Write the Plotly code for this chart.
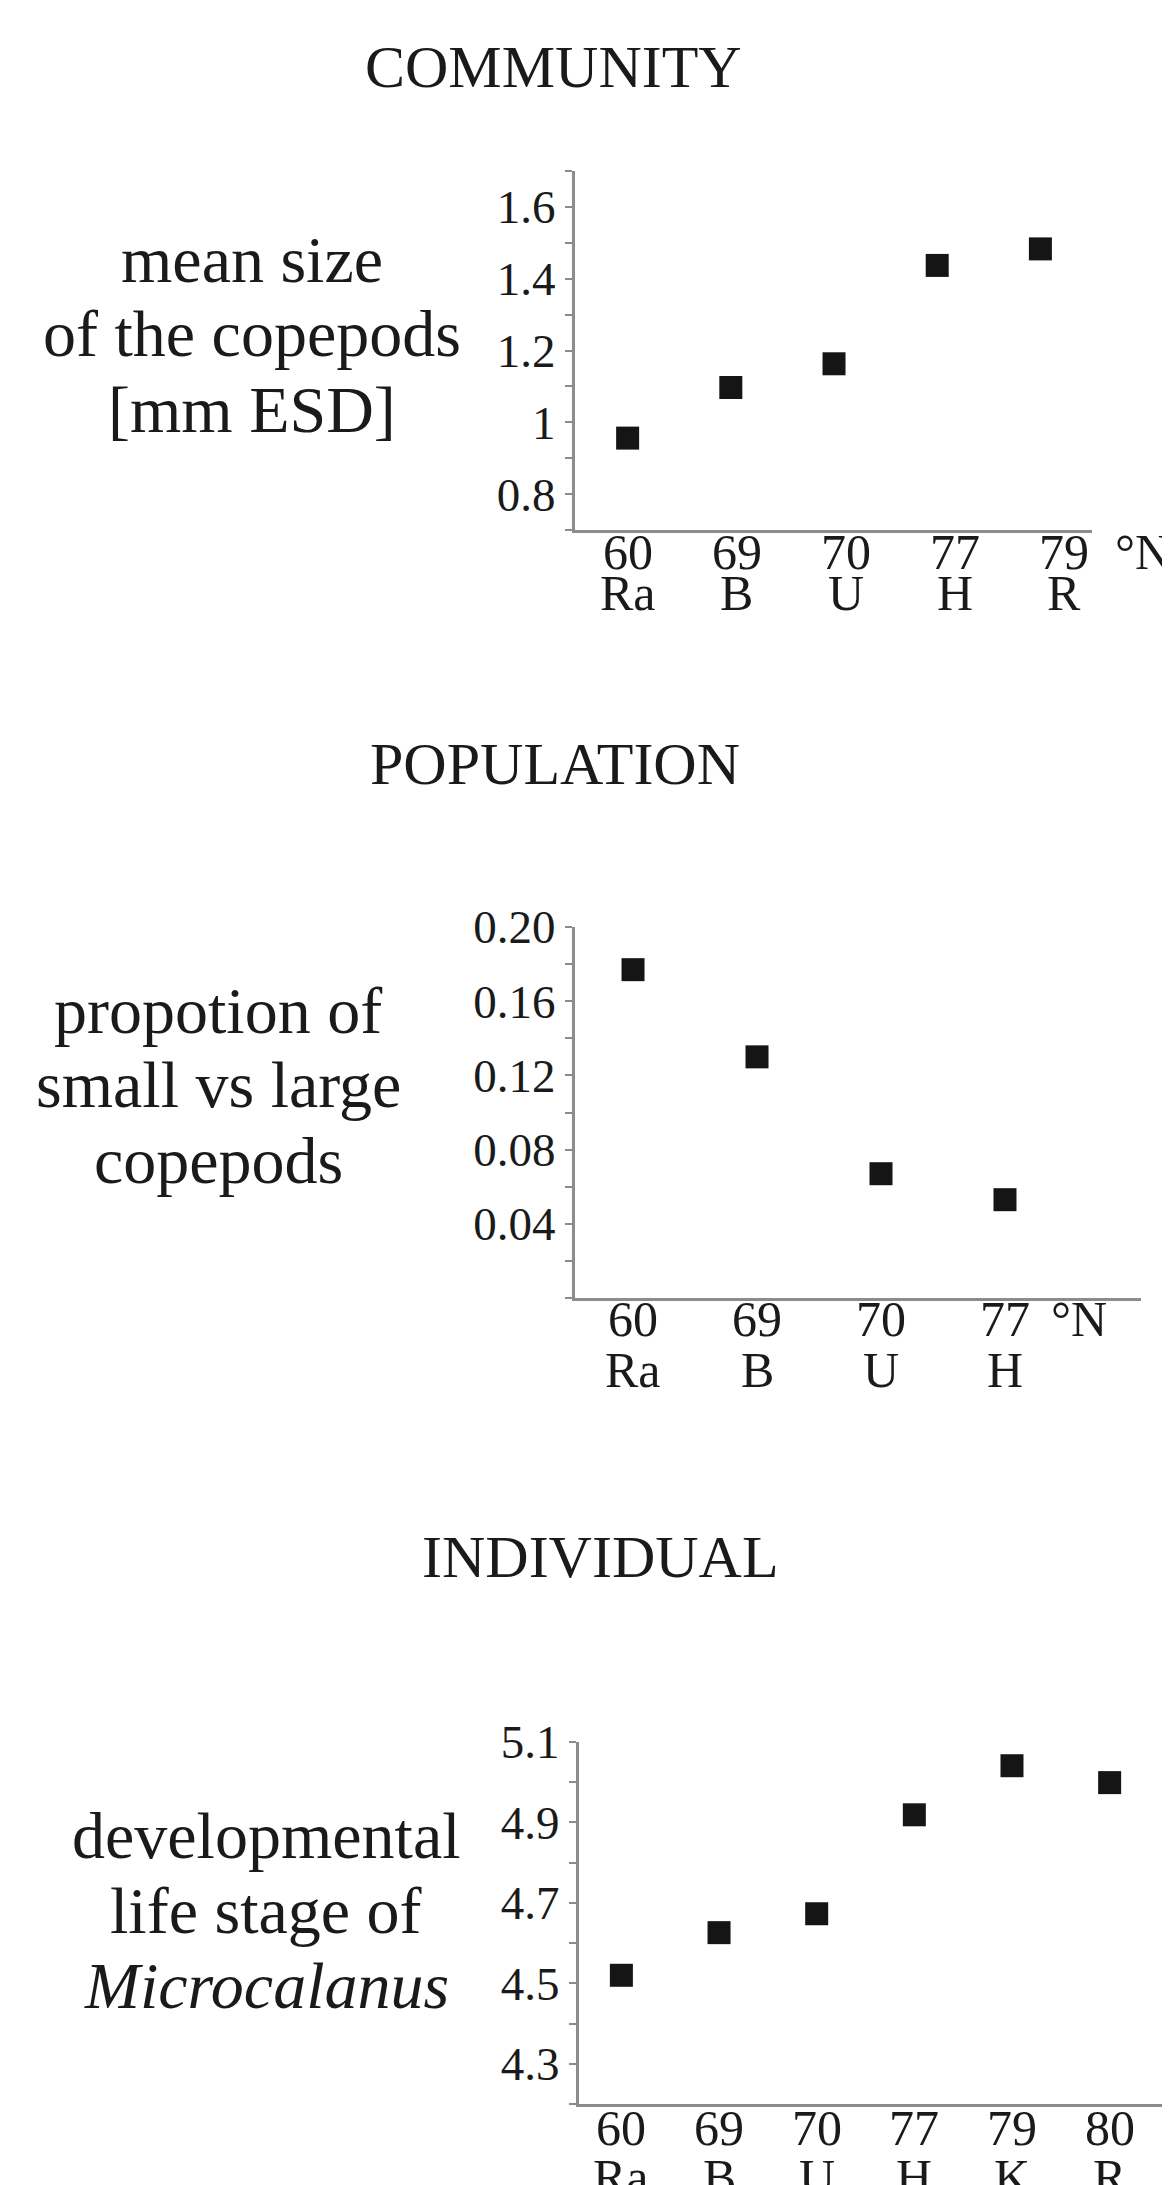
import plotly.graph_objects as go

W, H = 1170, 2185
OFF = 8  # page body margin of the browser
FONT = "Liberation Serif"
INK = "#1a1a1a"
AXC = "#8c8c8c"

# ---------------- data ----------------
lat_comm = ["60", "69", "70", "77", "79"]
st_comm = ["Ra", "B", "U", "H", "R"]
size_comm = [0.956, 1.097, 1.163, 1.437, 1.483]

lat_pop = ["60", "69", "70", "77"]
st_pop = ["Ra", "B", "U", "H"]
ratio_pop = [0.177, 0.130, 0.067, 0.053]

lat_ind = ["60", "69", "70", "77", "79", "80"]
st_ind = ["Ra", "B", "U", "H", "K", "R"]
stage_ind = [4.52, 4.626, 4.673, 4.919, 5.041, 4.999]

y1_vals = [0.8, 1.0, 1.2, 1.4, 1.6]
y1_text = ["0.8", "1", "1.2", "1.4", "1.6"]
y2_vals = [0.04, 0.08, 0.12, 0.16, 0.20]
y2_text = ["0.04", "0.08", "0.12", "0.16", "0.20"]
y3_vals = [4.3, 4.5, 4.7, 4.9, 5.1]
y3_text = ["4.3", "4.5", "4.7", "4.9", "5.1"]

titles = ["COMMUNITY", "POPULATION", "INDIVIDUAL"]
labels = [
    ["mean size", "of the copepods", "[mm ESD]"],
    ["propotion of", "small vs large", "copepods"],
    ["developmental", "life stage of", "<i>Microcalanus</i>"],
]


def px_x(p):
    return (p - OFF) / W


def px_y(p):
    return 1 - (p - OFF) / H


# panel layout (pixel geometry on the page)
panels = [
    dict(lat=lat_comm, st=st_comm, val=size_comm, yv=y1_vals, yt=y1_text,
         left=575, right=1092, top=171, bottom=530, xr=[-0.51, 4.5],
         yr=[0.7, 1.7], minor0=0.7, mdt=0.1, num_off=22, st_off=63,
         lab_step=1.056, degx=1143, deg_anchor="center",
         title_x=553, title_base=87, lab_x=252, lab_base=[282, 356, 432]),
    dict(lat=lat_pop, st=st_pop, val=ratio_pop, yv=y2_vals, yt=y2_text,
         left=575, right=1141, top=927, bottom=1298, xr=[-0.468, 4.097],
         yr=[0.0, 0.2], minor0=0.0, mdt=0.02, num_off=21, st_off=72,
         lab_step=1.0, degx=1079, deg_anchor="center",
         title_x=555, title_base=784, lab_x=218, lab_base=[1033, 1107, 1183]),
    dict(lat=lat_ind, st=st_ind, val=stage_ind, yv=y3_vals, yt=y3_text,
         left=579, right=1178, top=1742, bottom=2104, xr=[-0.434, 5.70],
         yr=[4.2, 5.1], minor0=4.2, mdt=0.1, num_off=24, st_off=73,
         lab_step=1.0, degx=1160, deg_anchor="left",
         title_x=600, title_base=1577, lab_x=266, lab_base=[1858, 1933, 2008]),
]

fig = go.Figure()
layout = dict(
    width=W, height=H, margin=dict(l=0, r=0, t=0, b=0, pad=0, autoexpand=False),
    paper_bgcolor="white", plot_bgcolor="white", showlegend=False,
    font=dict(family=FONT, color=INK),
)
annotations = []
TF = 50
YTF = 47
TITLE_F = 60
LAB_F = 66

for i, p in enumerate(panels, start=1):
    sx = "" if i == 1 else str(i)
    fig.add_trace(go.Scatter(
        x=p["lat"], y=p["val"], mode="markers",
        marker=dict(symbol="square", size=23, color="#151515", line=dict(width=0)),
        xaxis="x" + sx, yaxis="y" + sx, cliponaxis=False,
    ))
    layout["xaxis" + sx] = dict(
        domain=[px_x(p["left"]), px_x(p["right"])], anchor="y" + sx,
        type="category", categoryorder="array", categoryarray=p["lat"],
        range=p["xr"], showline=True, linecolor=AXC, linewidth=3,
        showgrid=False, zeroline=False, ticks="", automargin=False,
        showticklabels=False,
    )
    layout["yaxis" + sx] = dict(
        domain=[px_y(p["bottom"]), px_y(p["top"])], anchor="x" + sx,
        range=p["yr"], showline=True, linecolor=AXC, linewidth=3,
        showgrid=False, zeroline=False, automargin=False,
        tickmode="array", tickvals=p["yv"], ticktext=p["yt"],
        ticks="outside", ticklen=7, tickwidth=2, tickcolor=AXC,
        tickfont=dict(family=FONT, size=YTF, color=INK),
        ticklabelstandoff=0,
        minor=dict(tickmode="linear", tick0=p["minor0"], dtick=p["mdt"],
                   ticks="outside", ticklen=7, tickwidth=2, tickcolor=AXC,
                   showgrid=False),
    )
    # x labels: latitude (first row) and station letter (second row)
    for k, (lt, s) in enumerate(zip(p["lat"], p["st"])):
        xk = k * p["lab_step"]
        annotations.append(dict(
            x=xk, y=0, xref="x" + sx, yref="y" + sx + " domain",
            text=lt, showarrow=False, xanchor="center", yanchor="middle",
            yshift=-p["num_off"], font=dict(family=FONT, size=TF, color=INK),
        ))
        annotations.append(dict(
            x=xk, y=0, xref="x" + sx, yref="y" + sx + " domain",
            text=s, showarrow=False, xanchor="center", yanchor="middle",
            yshift=-p["st_off"], font=dict(family=FONT, size=TF, color=INK),
        ))
    # degree N
    annotations.append(dict(
        x=px_x(p["degx"]), y=px_y(p["bottom"] + p["num_off"]), xref="paper", yref="paper",
        text="°N", showarrow=False, xanchor=p["deg_anchor"], yanchor="middle",
        font=dict(family=FONT, size=TF, color=INK),
    ))
    # title
    annotations.append(dict(
        x=px_x(p["title_x"]), y=px_y(p["title_base"] - 0.3375 * TITLE_F),
        xref="paper", yref="paper", text=titles[i - 1], showarrow=False,
        xanchor="center", yanchor="middle",
        font=dict(family=FONT, size=TITLE_F, color=INK),
    ))
    # y label lines
    for line, base in zip(labels[i - 1], p["lab_base"]):
        annotations.append(dict(
            x=px_x(p["lab_x"]), y=px_y(base - 0.3375 * LAB_F),
            xref="paper", yref="paper", text=line, showarrow=False,
            xanchor="center", yanchor="middle",
            font=dict(family=FONT, size=LAB_F, color=INK),
        ))

layout["annotations"] = annotations
fig.update_layout(**layout)
fig.write_html("out.html")
